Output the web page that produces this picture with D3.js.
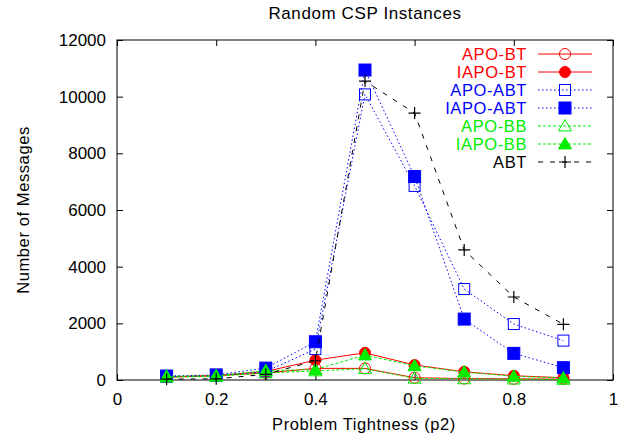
<!DOCTYPE html>
<html>
<head>
<meta charset="utf-8">
<script src="https://cdn.jsdelivr.net/npm/d3@7"></script>
<style>
  body { margin: 0; background: #fff; }
  text { font-family: "Liberation Sans", Arial, sans-serif; }
  .wide { letter-spacing: 0.6px; }
</style>
</head>
<body>
<div id="chart"></div>
<script>
var width = 631
var height = 440
var margin = { top: 40, right: 18, bottom: 60, left: 117 }

// tightness values on the x axis
var tightness = [0.1, 0.2, 0.3, 0.4, 0.5, 0.6, 0.7, 0.8, 0.9]

var apoBT = [100, 150, 250, 410, 410, 80, 50, 40, 30]
var iapoBT = [110, 160, 300, 700, 960, 530, 290, 150, 80]
var apoABT = [120, 150, 300, 1090, 10080, 6850, 3210, 1975, 1390]
var iapoABT = [140, 180, 420, 1350, 10940, 7180, 2150, 940, 435]
var apoBB = [100, 130, 250, 320, 400, 60, 40, 30, 20]
var iapoBB = [130, 150, 330, 370, 880, 500, 280, 130, 70]
var abt = [30, 40, 200, 680, 10550, 9420, 4590, 2930, 1965]

var xTicks = [0, 0.2, 0.4, 0.6, 0.8, 1]
var yTicks = [0, 2000, 4000, 6000, 8000, 10000, 12000]

var series = [
    { name: 'APO-BT', values: apoBT, color: '#ff0000', dash: null, marker: 'circle', fill: false },
    { name: 'IAPO-BT', values: iapoBT, color: '#ff0000', dash: null, marker: 'circle', fill: true },
    { name: 'APO-ABT', values: apoABT, color: '#0000ff', dash: '1.5,2.5', marker: 'square', fill: false },
    { name: 'IAPO-ABT', values: iapoABT, color: '#0000ff', dash: '1.5,2.5', marker: 'square', fill: true },
    { name: 'APO-BB', values: apoBB, color: '#00ee00', dash: '3,2', marker: 'triangle', fill: false },
    { name: 'IAPO-BB', values: iapoBB, color: '#00ee00', dash: '3,2', marker: 'triangle', fill: true },
    { name: 'ABT', values: abt, color: '#000000', dash: '5,7', marker: 'plus', fill: false }
]

var svg = d3.select('#chart').append('svg')
    .attr('width', width)
    .attr('height', height)

var x = d3.scaleLinear().domain([0, 1]).range([margin.left, width - margin.right])
var y = d3.scaleLinear().domain([0, 12000]).range([height - margin.bottom, margin.top])

// title
svg.append('text')
    .attr('class', 'wide')
    .attr('x', 365)
    .attr('y', 19)
    .attr('text-anchor', 'middle')
    .attr('font-size', '17px')
    .text('Random CSP Instances')

// axes, ticks pointing inward on all four sides
svg.append('g')
    .attr('transform', 'translate(0,' + (height - margin.bottom) + ')')
    .call(d3.axisBottom(x).tickValues(xTicks).tickSize(-6).tickPadding(13).tickFormat(d3.format('')))
    .call(g => g.select('.domain').remove())
svg.append('g')
    .attr('transform', 'translate(0,' + margin.top + ')')
    .call(d3.axisTop(x).tickValues(xTicks).tickSize(-6).tickFormat(''))
    .call(g => g.select('.domain').remove())
svg.append('g')
    .attr('transform', 'translate(' + margin.left + ',0)')
    .call(d3.axisLeft(y).tickValues(yTicks).tickSize(-6).tickPadding(11).tickFormat(d3.format('d')))
    .call(g => g.select('.domain').remove())
svg.append('g')
    .attr('transform', 'translate(' + (width - margin.right) + ',0)')
    .call(d3.axisRight(y).tickValues(yTicks).tickSize(-6).tickFormat(''))
    .call(g => g.select('.domain').remove())

svg.selectAll('.tick text')
    .attr('font-size', '17px')
    .attr('font-family', '"Liberation Sans", Arial, sans-serif')
    .attr('fill', '#000')

svg.append('rect')
    .attr('x', margin.left)
    .attr('y', margin.top)
    .attr('width', width - margin.left - margin.right)
    .attr('height', height - margin.top - margin.bottom)
    .attr('fill', 'none')
    .attr('stroke', '#000')
    .attr('stroke-width', 1)

// axis labels
svg.append('text')
    .attr('class', 'wide')
    .attr('x', 364)
    .attr('y', 430)
    .attr('text-anchor', 'middle')
    .attr('font-size', '16.5px')
    .text('Problem Tightness (p2)')

svg.append('text')
    .attr('class', 'wide')
    .attr('transform', 'translate(29,' + ((margin.top + height - margin.bottom) / 2) + ') rotate(-90)')
    .attr('text-anchor', 'middle')
    .attr('font-size', '16.5px')
    .text('Number of Messages')

function drawMarker(g, s, cx, cy) {
    let fill = s.fill ? s.color : 'none'
    if (s.marker == 'circle') {
        g.append('circle').attr('cx', cx).attr('cy', cy).attr('r', 5.5)
            .attr('fill', s.fill ? s.color : 'none').attr('stroke', s.color).attr('stroke-width', 1)
    } else if (s.marker == 'square') {
        let sz = s.fill ? 12 : 11
        g.append('rect').attr('x', cx - sz / 2).attr('y', cy - sz / 2).attr('width', sz).attr('height', sz)
            .attr('fill', fill).attr('stroke', s.color).attr('stroke-width', 1)
    } else if (s.marker == 'triangle') {
        let r = 6.5
        g.append('path')
            .attr('d', 'M' + cx + ',' + (cy - r) + 'L' + (cx + r) + ',' + (cy + r * 0.75) + 'L' + (cx - r) + ',' + (cy + r * 0.75) + 'Z')
            .attr('fill', fill).attr('stroke', s.color).attr('stroke-width', 1)
    } else {
        g.append('path')
            .attr('d', 'M' + (cx - 6) + ',' + cy + 'H' + (cx + 6) + 'M' + cx + ',' + (cy - 6) + 'V' + (cy + 6))
            .attr('stroke', s.color).attr('stroke-width', 1.2)
    }
}

var line = d3.line()
    .x(d => x(d[0]))
    .y(d => y(d[1]))

series.forEach(s => {
    let pts = tightness.map((t, i) => [t, s.values[i]])
    let g = svg.append('g')
    g.append('path')
        .datum(pts)
        .attr('d', line)
        .attr('fill', 'none')
        .attr('stroke', s.color)
        .attr('stroke-width', 1)
        .attr('stroke-dasharray', s.dash)
    pts.forEach(p => drawMarker(g, s, x(p[0]), y(p[1])))
})

// legend
series.forEach((s, i) => {
    let ly = 54 + i * 18
    let g = svg.append('g')
    g.append('text')
        .attr('class', 'wide')
        .attr('x', 527)
        .attr('y', ly + 6)
        .attr('text-anchor', 'end')
        .attr('font-size', '16.5px')
        .attr('fill', s.color)
        .text(s.name)
    g.append('line')
        .attr('x1', 538).attr('x2', 592)
        .attr('y1', ly).attr('y2', ly)
        .attr('stroke', s.color)
        .attr('stroke-width', 1)
        .attr('stroke-dasharray', s.dash)
    drawMarker(g, s, 565, ly)
})
</script>
</body>
</html>
